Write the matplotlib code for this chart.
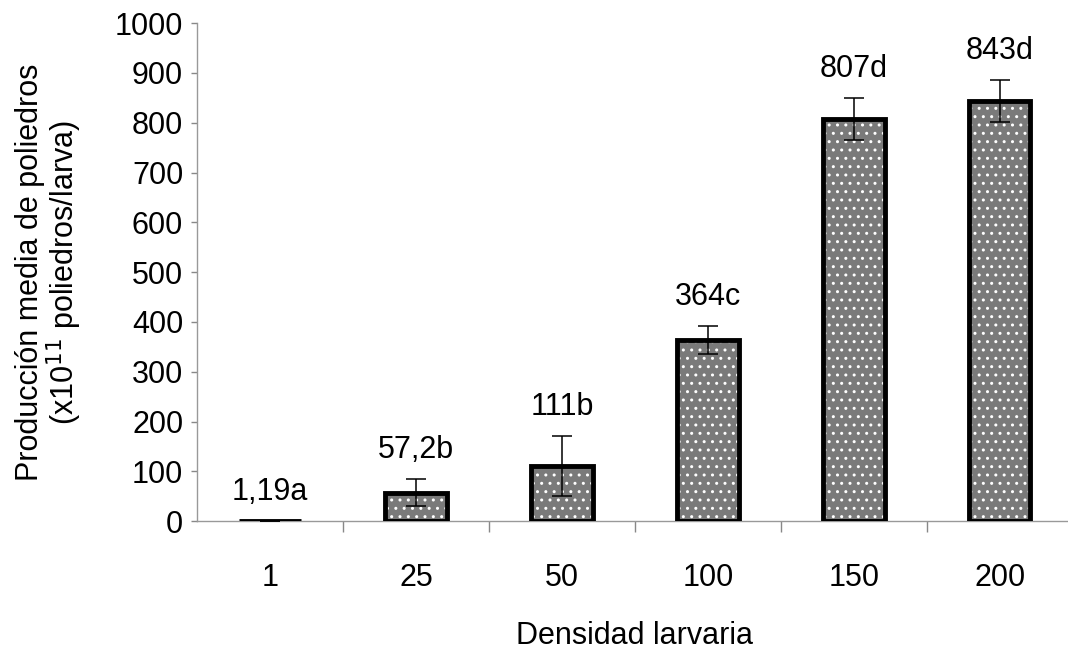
import numpy as np
import matplotlib
matplotlib.use("Agg")
import matplotlib.pyplot as plt

plt.rcParams['font.family'] = ['Liberation Sans', 'DejaVu Sans']

# data
densidad = ['1', '25', '50', '100', '150', '200']
media = [1.19, 57.2, 111, 364, 807, 843]
error = [0, 27, 60, 28, 42, 42]
etiquetas = ['1,19a', '57,2b', '111b', '364c', '807d', '843d']

fig = plt.figure(figsize=(10.68, 6.59), dpi=100)
ax = fig.add_axes([0.1845, 0.209, 0.82, 0.756])

x = np.arange(len(densidad))
ancho = 0.42

# dotted grey fill, then the thick black outline on top
ax.bar(x, media, width=ancho, color='#7a7a7a', edgecolor='white', hatch='..', linewidth=0, zorder=2)
ax.bar(x, media, width=ancho, fill=False, edgecolor='black', linewidth=3.5, zorder=3)
ax.errorbar(x, media, yerr=error, fmt='none', ecolor='black', elinewidth=1.1, capsize=7, capthick=1.1, zorder=4)

for xi, m, e, t in zip(x, media, error, etiquetas):
    ax.text(xi, m + e + 58, t, ha='center', va='center', fontsize=22)

ax.set_xlim(-0.5, 5.5)
ax.set_ylim(0, 1000)
ax.set_yticks(np.arange(0, 1001, 100))
ax.set_xticks(x)
ax.set_xticklabels(densidad)
ax.set_xticks(np.arange(0.5, 5.5, 1), minor=True)
ax.tick_params(axis='x', which='major', length=0, pad=30, labelsize=22)
ax.tick_params(axis='x', which='minor', length=8, color='#888888', width=1)
ax.tick_params(axis='y', length=4, color='#888888', width=1, pad=6, labelsize=22)

for s in ['top', 'right']:
    ax.spines[s].set_visible(False)
for s in ['left', 'bottom']:
    ax.spines[s].set_color('#999999')
    ax.spines[s].set_linewidth(1)

ax.set_xlabel('Densidad larvaria', fontsize=22, labelpad=20)
ax.set_ylabel('Producción media de poliedros\n(x10$^{11}$ poliedros/larva)', fontsize=22, labelpad=22, linespacing=1.0)

fig.savefig('out.png', dpi=100)
